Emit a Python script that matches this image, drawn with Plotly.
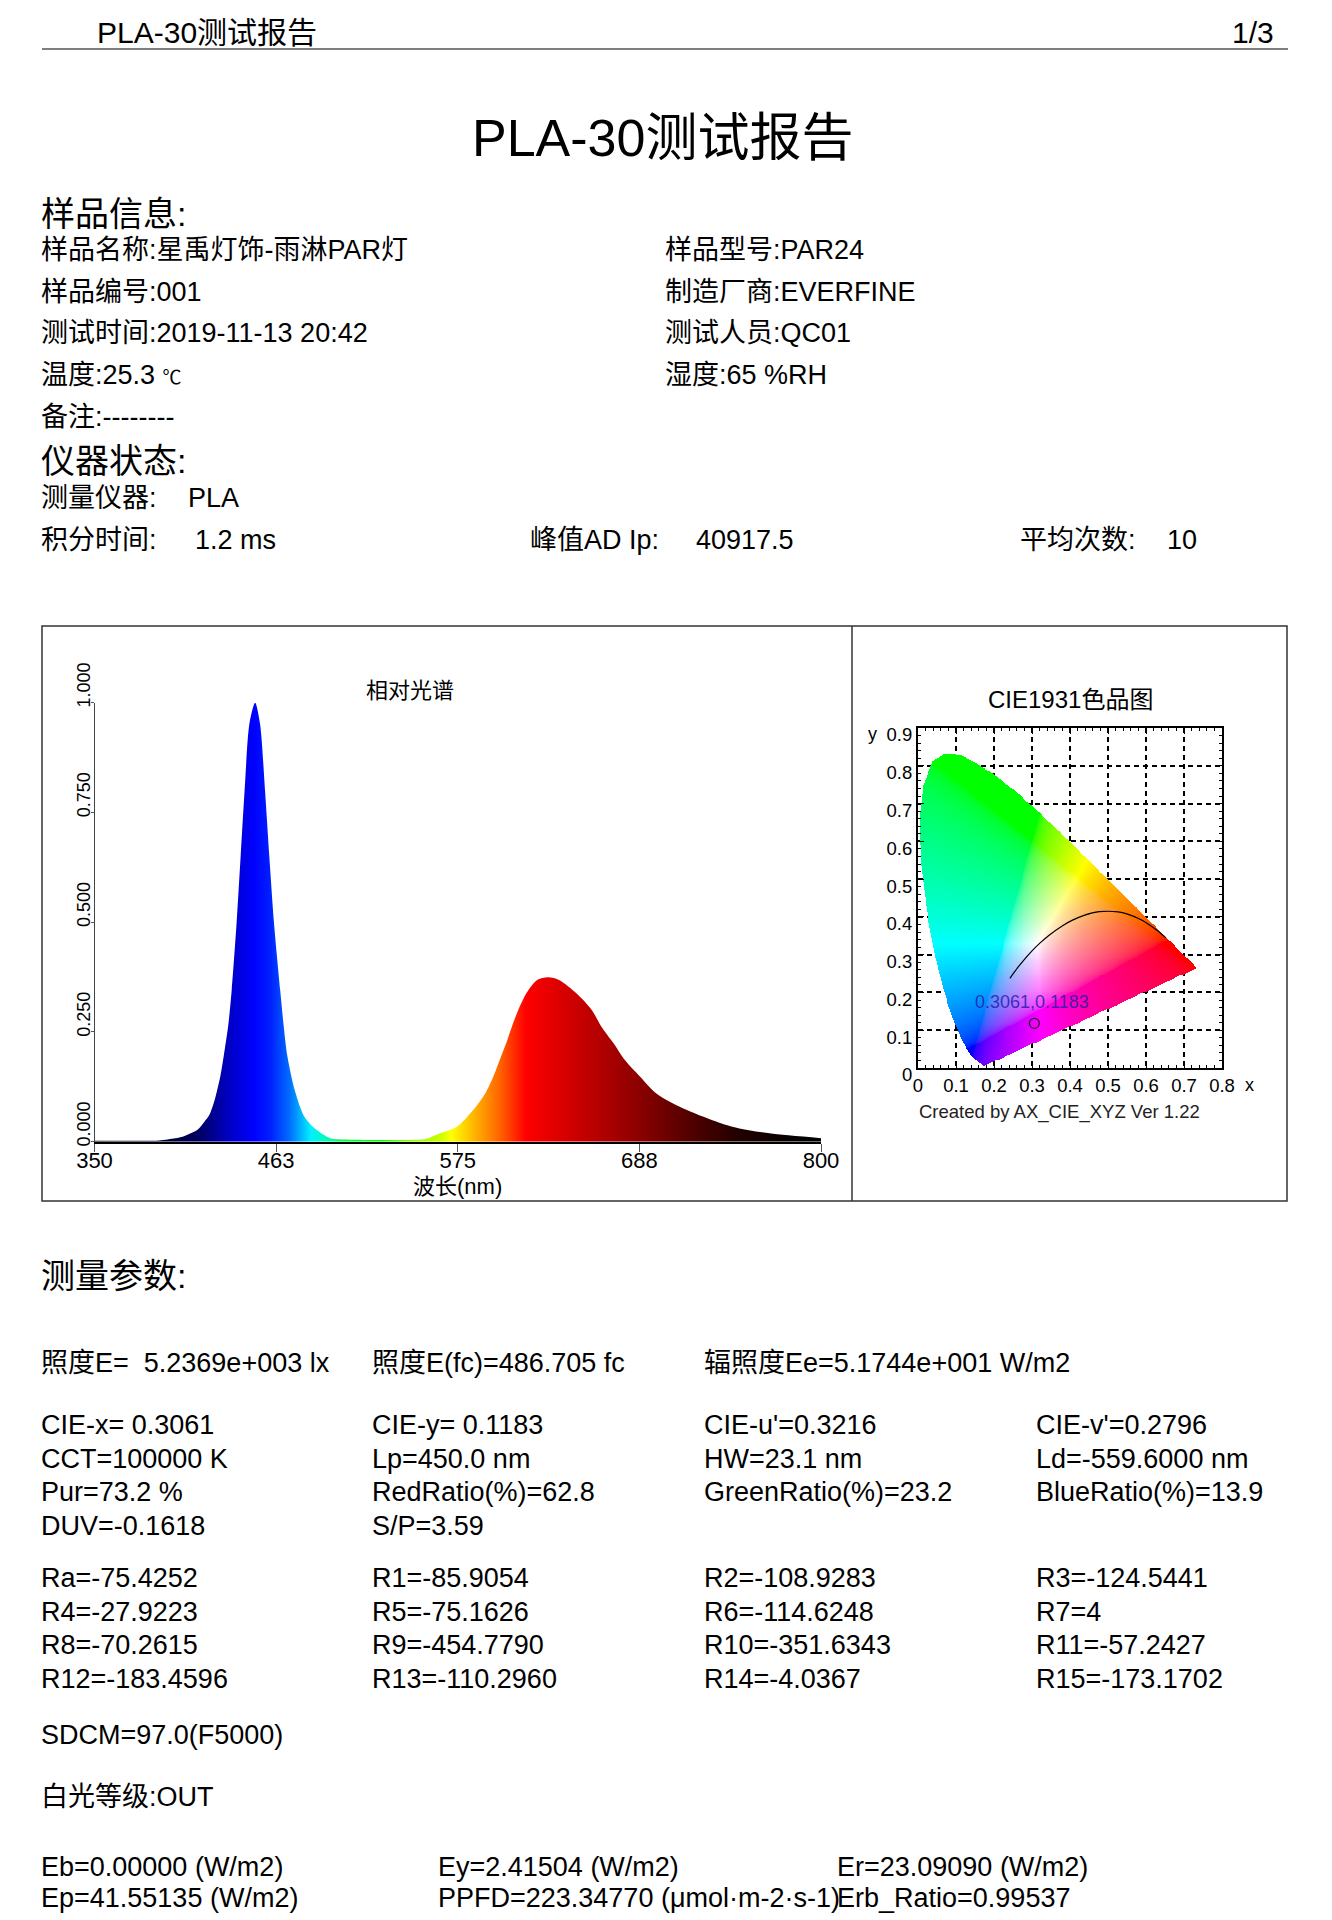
import numpy as np
import plotly.graph_objects as go

W, H = 1332, 1920
FONT = "Liberation Sans, Noto Sans CJK SC, sans-serif"

# ---------------- data: relative spectrum ----------------
spec_nm = [350, 370, 390, 400, 405, 410, 414, 418, 421, 424, 426, 428, 430, 433, 435,
           438, 440.5, 443, 446, 449.5, 452.5, 455.6, 458.3, 461.2, 465, 467, 469.5,
           474, 480, 487.5, 496, 505, 520, 540, 555, 564, 574.5, 584.5, 592, 597, 601,
           605, 608.5, 612.5, 617.5, 624, 631, 638, 648.5, 658, 664, 671.5, 678.5, 688,
           698, 717, 745, 768, 800]
spec_val = [0.002, 0.002, 0.003, 0.008, 0.012, 0.020, 0.028, 0.045, 0.060, 0.090, 0.118,
            0.150, 0.194, 0.270, 0.346, 0.497, 0.649, 0.801, 0.953, 1.000, 0.953, 0.801,
            0.649, 0.497, 0.346, 0.270, 0.194, 0.118, 0.057, 0.027, 0.008, 0.005, 0.004,
            0.004, 0.006, 0.019, 0.034, 0.072, 0.110, 0.148, 0.186, 0.224, 0.262, 0.300,
            0.338, 0.368, 0.3745, 0.368, 0.338, 0.300, 0.262, 0.224, 0.186, 0.148, 0.110,
            0.072, 0.034, 0.019, 0.008]
wl_ticks = [350, 462.5, 575, 687.5, 800]
wl_tick_text = ["350", "463", "575", "688", "800"]
rel_ticks = [0, 0.25, 0.5, 0.75, 1.0]
rel_tick_text = ["0.000", "0.250", "0.500", "0.750", "1.000"]

# spectral colours used for the fill
grad_nm = [350, 395, 415, 434, 449, 459, 471, 484, 494, 506, 527, 547, 564, 571, 589,
           601, 617, 650, 688, 720, 750, 780, 800]
grad_col = ["#000010", "#000032", "#000064", "#0000c8", "#0000ff", "#0020ff", "#006eff",
            "#00f0ff", "#00ffb4", "#00ff32", "#00ff00", "#96ff00", "#c8ff00", "#ffff00",
            "#ffa000", "#ff6400", "#ff0000", "#c80000", "#8a0000", "#500000", "#200000",
            "#080000", "#000000"]

# ---------------- data: CIE 1931 ----------------
locus_nm = [380, 390, 400, 410, 420, 430, 440, 450, 460, 465, 470, 475, 480, 485, 490, 495,
            500, 505, 510, 515, 520, 525, 530, 535, 540, 545, 550, 555, 560, 565, 570, 575,
            580, 585, 590, 595, 600, 605, 610, 620, 630, 640, 650, 660, 680, 700]
locus_x = [0.1741, 0.1738, 0.1733, 0.1726, 0.1714, 0.1689, 0.1644, 0.1566, 0.1440, 0.1355,
           0.1241, 0.1096, 0.0913, 0.0687, 0.0454, 0.0235, 0.0082, 0.0039, 0.0139, 0.0389,
           0.0743, 0.1142, 0.1547, 0.1929, 0.2296, 0.2658, 0.3016, 0.3373, 0.3731, 0.4087,
           0.4441, 0.4788, 0.5125, 0.5448, 0.5752, 0.6029, 0.6270, 0.6482, 0.6658, 0.6915,
           0.7079, 0.7190, 0.7260, 0.7300, 0.7334, 0.7347]
locus_y = [0.0050, 0.0049, 0.0048, 0.0048, 0.0051, 0.0069, 0.0109, 0.0177, 0.0297, 0.0399,
           0.0578, 0.0868, 0.1327, 0.2007, 0.2950, 0.4127, 0.5384, 0.6548, 0.7502, 0.8120,
           0.8338, 0.8262, 0.8059, 0.7816, 0.7543, 0.7243, 0.6923, 0.6589, 0.6245, 0.5896,
           0.5547, 0.5202, 0.4866, 0.4544, 0.4242, 0.3965, 0.3725, 0.3514, 0.3340, 0.3083,
           0.2920, 0.2809, 0.2740, 0.2700, 0.2666, 0.2653]
planck_K = [1000, 1200, 1500, 1800, 2000, 2500, 3000, 3500, 4000, 5000, 6000, 7000, 8000,
            10000, 15000, 20000, 30000, 100000]
planck_x = [0.6528, 0.6251, 0.5857, 0.5496, 0.5267, 0.4770, 0.4369, 0.4053, 0.3805, 0.3451,
            0.3221, 0.3064, 0.2952, 0.2807, 0.2637, 0.2565, 0.2501, 0.2420]
planck_y = [0.3444, 0.3674, 0.3931, 0.4081, 0.4133, 0.4137, 0.4041, 0.3907, 0.3768, 0.3516,
            0.3318, 0.3166, 0.3048, 0.2884, 0.2674, 0.2577, 0.2489, 0.2372]
sample_x = [0.3061]
sample_y = [0.1183]
sample_label = "0.3061,0.1183"
cie_x_ticks = [0, 0.1, 0.2, 0.3, 0.4, 0.5, 0.6, 0.7, 0.8]
cie_x_text = ["0", "0.1", "0.2", "0.3", "0.4", "0.5", "0.6", "0.7", "0.8"]
cie_y_ticks = [0, 0.1, 0.2, 0.3, 0.4, 0.5, 0.6, 0.7, 0.8, 0.9]
cie_y_text = ["0", "0.1", "0.2", "0.3", "0.4", "0.5", "0.6", "0.7", "0.8", "0.9"]

# ---------------- report texts ----------------
report_title = "PLA-30测试报告"
page_no = "1/3"
sample_info_left = ["样品名称:星禹灯饰-雨淋PAR灯", "样品编号:001", "测试时间:2019-11-13 20:42",
                    "温度:25.3 <span style='font-size:19px'>℃</span>", "备注:--------"]
sample_info_right = ["样品型号:PAR24", "制造厂商:EVERFINE", "测试人员:QC01", "湿度:65 %RH"]
param_row0 = ["照度E=  5.2369e+003 lx", "照度E(fc)=486.705 fc", "辐照度Ee=5.1744e+001 W/m2"]
param_rows = [
    ["CIE-x= 0.3061", "CIE-y= 0.1183", "CIE-u'=0.3216", "CIE-v'=0.2796"],
    ["CCT=100000 K", "Lp=450.0 nm", "HW=23.1 nm", "Ld=-559.6000 nm"],
    ["Pur=73.2 %", "RedRatio(%)=62.8", "GreenRatio(%)=23.2", "BlueRatio(%)=13.9"],
    ["DUV=-0.1618", "S/P=3.59", "", ""],
]
cri_rows = [
    ["Ra=-75.4252", "R1=-85.9054", "R2=-108.9283", "R3=-124.5441"],
    ["R4=-27.9223", "R5=-75.1626", "R6=-114.6248", "R7=4"],
    ["R8=-70.2615", "R9=-454.7790", "R10=-351.6343", "R11=-57.2427"],
    ["R12=-183.4596", "R13=-110.2960", "R14=-4.0367", "R15=-173.1702"],
]
energy_rows = [
    ["Eb=0.00000 (W/m2)", "Ey=2.41504 (W/m2)", "Er=23.09090 (W/m2)"],
    ["Ep=41.55135 (W/m2)", "PPFD=223.34770 (μmol·m-2·s-1)", "Erb_Ratio=0.99537"],
]

# ---------------- helpers ----------------
def px(x):
    return x / W


def py(y):
    return 1 - y / H


annotations = []


def note(s, x, y, size=27, xa="left", ya="middle", color="black", family=FONT, **kw):
    annotations.append(dict(text=s, x=px(x), y=py(y), xref="paper", yref="paper",
                            showarrow=False, xanchor=xa, yanchor=ya,
                            font=dict(size=size, color=color, family=family), **kw))


# ---------------- CIE background image ----------------
res = 0.0025
nx, ny = int(round(0.8 / res)), int(round(0.9 / res))
gx = (np.arange(nx) + 0.5) * res
gy = (np.arange(ny) + 0.5) * res
GX, GY = np.meshgrid(gx, gy)


def inside_poly(qx, qy, vx, vy):
    out = np.zeros(qx.shape, bool)
    n = len(vx)
    j = n - 1
    for i in range(n):
        xi, yi, xj, yj = vx[i], vy[i], vx[j], vy[j]
        if yi != yj:
            cond = ((yi > qy) != (yj > qy)) & (qx < (xj - xi) * (qy - yi) / (yj - yi) + xi)
            out ^= cond
        j = i
    return out


mask = inside_poly(GX, GY, locus_x, locus_y)
Yc = np.maximum(GY, 1e-6)
Xc = GX / Yc
Zc = (1 - GX - GY) / Yc
R = 3.2406 * Xc - 1.5372 - 0.4986 * Zc
G = -0.9689 * Xc + 1.8758 + 0.0415 * Zc
B = 0.0557 * Xc - 0.2040 + 1.0570 * Zc
rgb = np.clip(np.stack([R, G, B], -1), 0, None)
rgb = rgb / (rgb.max(-1, keepdims=True) + 1e-9)
rgb = rgb ** (1 / 2.2)
img = np.zeros((ny, nx, 4), dtype=int)
img[..., :3] = np.round(rgb * 255).astype(int)
img[..., 3] = np.where(mask, 255, 0)

# ---------------- figure ----------------
fig = go.Figure()

cscale = [[(v - 350) / 450, c] for v, c in zip(grad_nm, grad_col)]
fig.add_trace(go.Scatter(
    x=spec_nm, y=spec_val, mode="lines", fill="tozeroy",
    line=dict(width=0, shape="spline", smoothing=0.8, color="rgba(0,0,0,0)"),
    fillgradient=dict(type="horizontal", colorscale=cscale, start=350, stop=800),
    hoverinfo="skip", xaxis="x", yaxis="y"))

fig.add_trace(go.Image(z=img.tolist(), colormodel="rgba256", x0=res / 2, dx=res,
                       y0=res / 2, dy=res, xaxis="x2", yaxis="y2", hoverinfo="skip"))
fig.add_trace(go.Scatter(x=planck_x, y=planck_y, mode="lines",
                         line=dict(color="black", width=1.2, shape="spline"),
                         xaxis="x2", yaxis="y2", hoverinfo="skip"))
fig.add_trace(go.Scatter(x=sample_x, y=sample_y, mode="markers",
                         marker=dict(symbol="circle-open", size=10, color="#300830",
                                     line=dict(width=1.3)),
                         xaxis="x2", yaxis="y2", hoverinfo="skip"))

# ---- header & info texts ----
LX = 39
note(report_title, 95, 32, size=30)
note(page_no, 1276, 32, size=30, xa="right")
note(report_title, 662, 138, size=52, xa="center")
note("样品信息:", LX, 214, size=34)
rows_y = [250, 291.5, 333, 374.5, 417]
for s, yy in zip(sample_info_left, rows_y):
    note(s, LX, yy)
for s, yy in zip(sample_info_right, rows_y):
    note(s, 663, yy)
note("仪器状态:", LX, 461, size=34)
note("测量仪器:", LX, 498)
note("PLA", 186, 498)
note("积分时间:", LX, 540)
note("1.2 ms", 193, 540)
note("峰值AD Ip:", 528, 540)
note("40917.5", 694, 540)
note("平均次数:", 1018, 540)
note("10", 1165, 540)

# ---- chart texts ----
note("相对光谱", 410, 690, size=22, xa="center")
note("波长(nm)", 457, 1186, size=22, xa="center")
note("CIE1931色品图", 1070, 700, size=24, xa="center")
note("y", 872, 734, size=18, xa="center")
note("x", 1249, 1085, size=18, xa="center")
note("Created by AX_CIE_XYZ Ver 1.22", 1059, 1112, size=18.5, xa="center", color="#222")
annotations.append(dict(text=sample_label, x=sample_x[0], y=sample_y[0], xref="x2", yref="y2",
                        showarrow=False, yshift=21, xshift=-2,
                        font=dict(size=18, color="rgba(40,30,170,0.85)", family=FONT)))

# ---- measurement parameters ----
note("测量参数:", LX, 1276, size=34)
col_x = [LX, 370, 702, 1034]
for s, xx in zip(param_row0, col_x):
    note(s, xx, 1363)
for row, yy in zip(param_rows, [1425, 1458.5, 1492, 1525.5]):
    for s, xx in zip(row, col_x):
        if s:
            note(s, xx, yy)
for row, yy in zip(cri_rows, [1577.5, 1611.5, 1645, 1678.5]):
    for s, xx in zip(row, col_x):
        note(s, xx, yy)
note("SDCM=97.0(F5000)", LX, 1735)
note("白光等级:OUT", LX, 1797)
e_x = [LX, 436, 835]
for row, yy in zip(energy_rows, [1867, 1898]):
    for s, xx in zip(row, e_x):
        note(s, xx, yy)

shapes = [
    dict(type="line", xref="paper", yref="paper", x0=px(42), x1=px(1288), y0=py(49), y1=py(49),
         line=dict(color="#555", width=1.5)),
    dict(type="rect", xref="paper", yref="paper", x0=px(42), x1=px(1287), y0=py(626), y1=py(1201),
         line=dict(color="#333", width=1.5)),
    dict(type="line", xref="paper", yref="paper", x0=px(852), x1=px(852), y0=py(626), y1=py(1201),
         line=dict(color="#333", width=1.5)),
]

axis_font = dict(family=FONT, size=22, color="black")
cie_tick_font = dict(family=FONT, size=18.5, color="black")
fig.update_layout(
    width=W, height=H, margin=dict(l=0, r=0, t=0, b=0),
    paper_bgcolor="white", plot_bgcolor="white", template="none", showlegend=False,
    annotations=annotations, shapes=shapes,
    xaxis=dict(domain=[px(94.5), px(821)], range=[350, 800], anchor="y",
               tickmode="array", tickvals=wl_ticks, ticktext=wl_tick_text,
               ticks="outside", ticklen=8, tickcolor="#555", tickwidth=1,
               showline=True, linecolor="black", linewidth=2, showgrid=False, zeroline=False,
               tickfont=axis_font, ticklabelstandoff=-10, fixedrange=True),
    yaxis=dict(domain=[py(1141.7), py(702.7)], range=[0, 1], anchor="x",
               tickmode="array", tickvals=rel_ticks, ticktext=rel_tick_text, tickangle=-90,
               ticks="outside", ticklen=3, tickcolor="#555", showline=True, linecolor="#444",
               linewidth=1, showgrid=False, zeroline=False, ticklabelshift=-15,
               ticklabelstandoff=-7,
               tickfont=dict(family=FONT, size=18, color="black"), fixedrange=True),
    xaxis2=dict(domain=[px(918), px(1222)], range=[0, 0.8], anchor="y2",
                tickmode="array", tickvals=cie_x_ticks, ticktext=cie_x_text,
                ticks="inside", ticklen=6, tickcolor="black", mirror="allticks",
                showline=True, linecolor="black", linewidth=2,
                showgrid=True, gridcolor="black", griddash="5px,4px", gridwidth=1.6,
                zeroline=False,
                minor=dict(tickmode="linear", tick0=0, dtick=0.02, ticks="inside",
                           ticklen=3, tickcolor="black", showgrid=False),
                tickfont=cie_tick_font, fixedrange=True),
    yaxis2=dict(domain=[py(1068), py(728)], range=[0, 0.9], anchor="x2", autorange=False,
                scaleanchor=False,
                tickmode="array", tickvals=cie_y_ticks, ticktext=cie_y_text,
                ticks="inside", ticklen=6, tickcolor="black", mirror="allticks",
                showline=True, linecolor="black", linewidth=2,
                showgrid=True, gridcolor="black", griddash="5px,4px", gridwidth=1.6,
                zeroline=False, ticklabelshift=7,
                minor=dict(tickmode="linear", tick0=0, dtick=0.02, ticks="inside",
                           ticklen=3, tickcolor="black", showgrid=False),
                tickfont=cie_tick_font, fixedrange=True),
)

fig.write_html("out.html", include_plotlyjs=True, full_html=True,
               config={"displayModeBar": False},
               post_script="document.body.style.margin='0';")
